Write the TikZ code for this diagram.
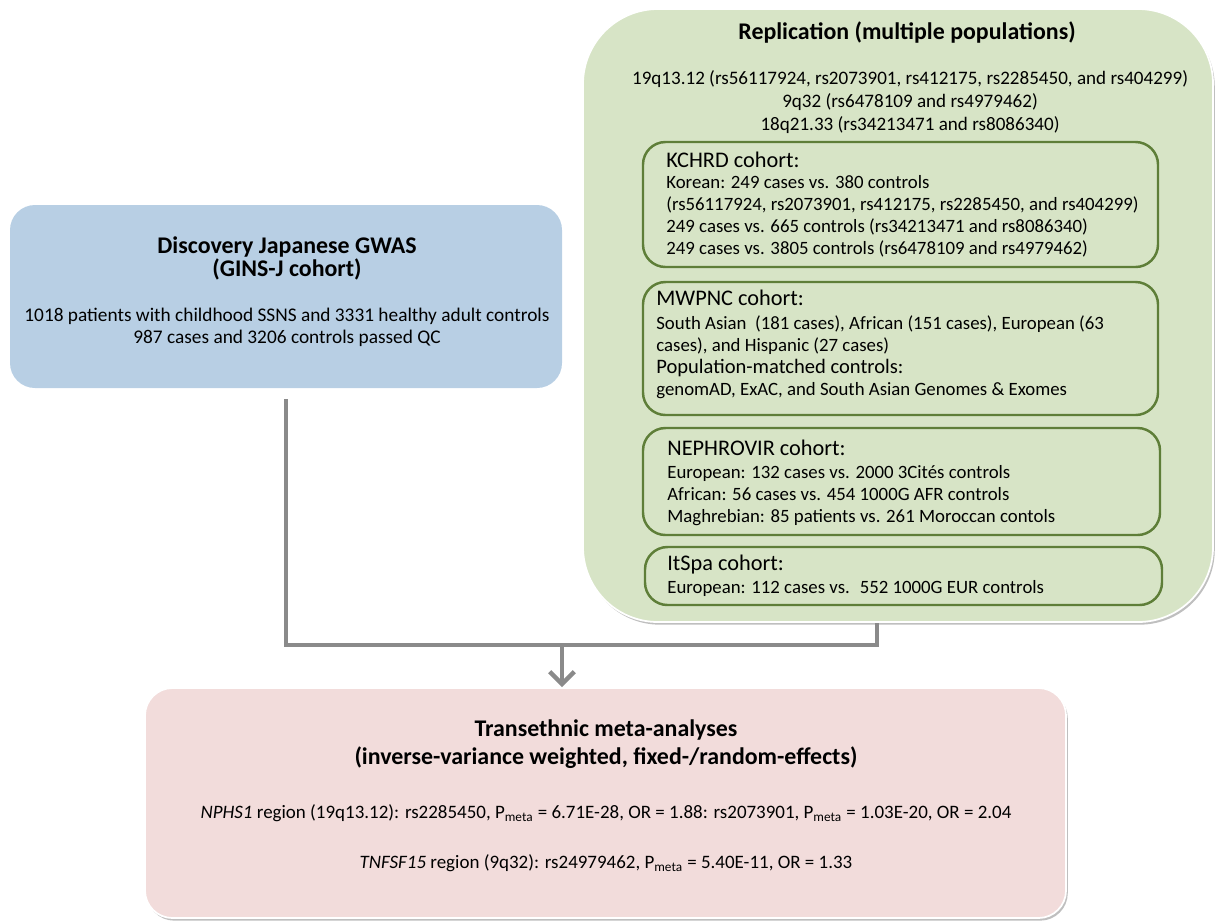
\documentclass[tikz,border=0pt]{standalone}
\usepackage{fontspec}
\setmainfont{Carlito}
\usepackage{tikz}
\usetikzlibrary{fit}
\usetikzlibrary{arrows.meta}
\usetikzlibrary{shadows}

\definecolor{discblue}{HTML}{B8CFE4}
\definecolor{replgreen}{HTML}{D7E4C6}
\definecolor{cohortline}{HTML}{5E7E38}
\definecolor{metapink}{HTML}{F2DCDB}
\definecolor{linkgray}{HTML}{8A8A8A}

\tikzset{
  box/.style={rectangle, inner sep=0pt},
  softshadow/.style={drop shadow={shadow xshift=1pt, shadow yshift=-1.5pt, fill=black, opacity=0.25}},
  cohort/.style={box, draw=cohortline, line width=1.4pt, rounded corners=0.45cm},
  head/.style={anchor=west, inner sep=0pt, font=\fontsize{12.7}{15}\selectfont},
  body/.style={anchor=north west, inner sep=0pt, align=left, font=\fontsize{10.7}{12.5}\selectfont},
  title/.style={inner sep=0pt, align=center, font=\bfseries\fontsize{13.6}{13}\selectfont},
  plain/.style={inner sep=0pt, align=center, font=\fontsize{11}{12.5}\selectfont},
  link/.style={draw=linkgray, line width=2.5pt}
}

\begin{document}
\begin{tikzpicture}[x=0.02cm, y=-0.02cm]
\useasboundingbox (0,0) rectangle (1216,921);

% discovery
\node[box, fill=discblue, rounded corners=0.5cm, fit={(10,205) (562,388)}] (disc) {};
\node[title] (discttl) at (287,258) {Discovery Japanese GWAS\\(GINS-J cohort)};
\node[plain] (disctxt) at (287,327) {1018 patients with childhood SSNS and 3331 healthy adult controls\\987 cases and 3206 controls passed QC};

% replication
\node[box, fill=replgreen, draw=white, line width=1pt, rounded corners=1.5cm, softshadow, fit={(583,9) (1213,622)}] (repl) {};
\node[title] (replttl) at (907,33) {Replication (multiple populations)};
\node[plain, font=\fontsize{10.85}{13}\selectfont] (loci) at (910,102) {19q13.12 (rs56117924, rs2073901, rs412175, rs2285450, and rs404299)\\9q32 (rs6478109 and rs4979462)\\18q21.33 (rs34213471 and rs8086340)};

\node[cohort, fit={(643,142) (1158,267)}] (kchrd) {};
\node[head] (kchrdhd) at (666,160) {KCHRD cohort:};
\node[body] (kchrdtxt) at (666,175) {Korean: 249 cases vs. 380 controls\\(rs56117924, rs2073901, rs412175, rs2285450, and rs404299)\\249 cases vs. 665 controls (rs34213471 and rs8086340)\\249 cases vs. 3805 controls (rs6478109 and rs4979462)};

\node[cohort, fit={(643,282) (1158,415)}] (mwpnc) {};
\node[head] (mwpnchd) at (656,298) {MWPNC cohort:};
\node[body] (mwpnctxt) at (656,315) {South Asian~ (181 cases), African (151 cases), European (63\\cases), and Hispanic (27 cases)\\{\fontsize{11.7}{12.5}\selectfont Population-matched controls:}\\genomAD, ExAC, and South Asian Genomes \& Exomes};

\node[cohort, fit={(643,428) (1160,535)}] (nephro) {};
\node[head] (nephrohd) at (667,448) {NEPHROVIR cohort:};
\node[body] (nephrotxt) at (667,465) {European: 132 cases vs. 2000 3Cités controls\\African: 56 cases vs. 454 1000G AFR controls\\Maghrebian: 85 patients vs. 261 Moroccan contols};

\node[cohort, fit={(645,547) (1162,605)}] (itspa) {};
\node[head] (itspahd) at (667,565) {ItSpa cohort:};
\node[body] (itspatxt) at (667,580) {European: 112 cases vs.~ 552 1000G EUR controls};

% meta-analysis
\node[box, fill=metapink, draw=white, line width=1pt, rounded corners=0.55cm, softshadow, fit={(145,688) (1066,918)}] (meta) {};
\node[title, font=\bfseries\fontsize{13.6}{16}\selectfont] (metattl) at (606,744) {Transethnic meta-analyses\\(inverse-variance weighted, fixed-/random-effects)};
\node[plain, font=\fontsize{10.8}{12}\selectfont] (nphs) at (606,813) {\textit{NPHS1} region (19q13.12): rs2285450, P\textsubscript{meta} = 6.71E-28, OR = 1.88: rs2073901, P\textsubscript{meta} = 1.03E-20, OR = 2.04};
\node[plain, font=\fontsize{10.8}{12}\selectfont] (tnfsf) at (606,863) {\textit{TNFSF15} region (9q32): rs24979462, P\textsubscript{meta} = 5.40E-11, OR = 1.33};

% connectors
\coordinate (split) at (562,645);
\coordinate (replfoot) at ([xshift=-0.42cm]repl.south);
\draw[link] ([yshift=-0.22cm]disc.south) |- (split) -| (replfoot);
\draw[link, -{Straight Barb[length=7pt, width=14pt]}] (split) -- (split |- meta.north);
\end{tikzpicture}
\end{document}
